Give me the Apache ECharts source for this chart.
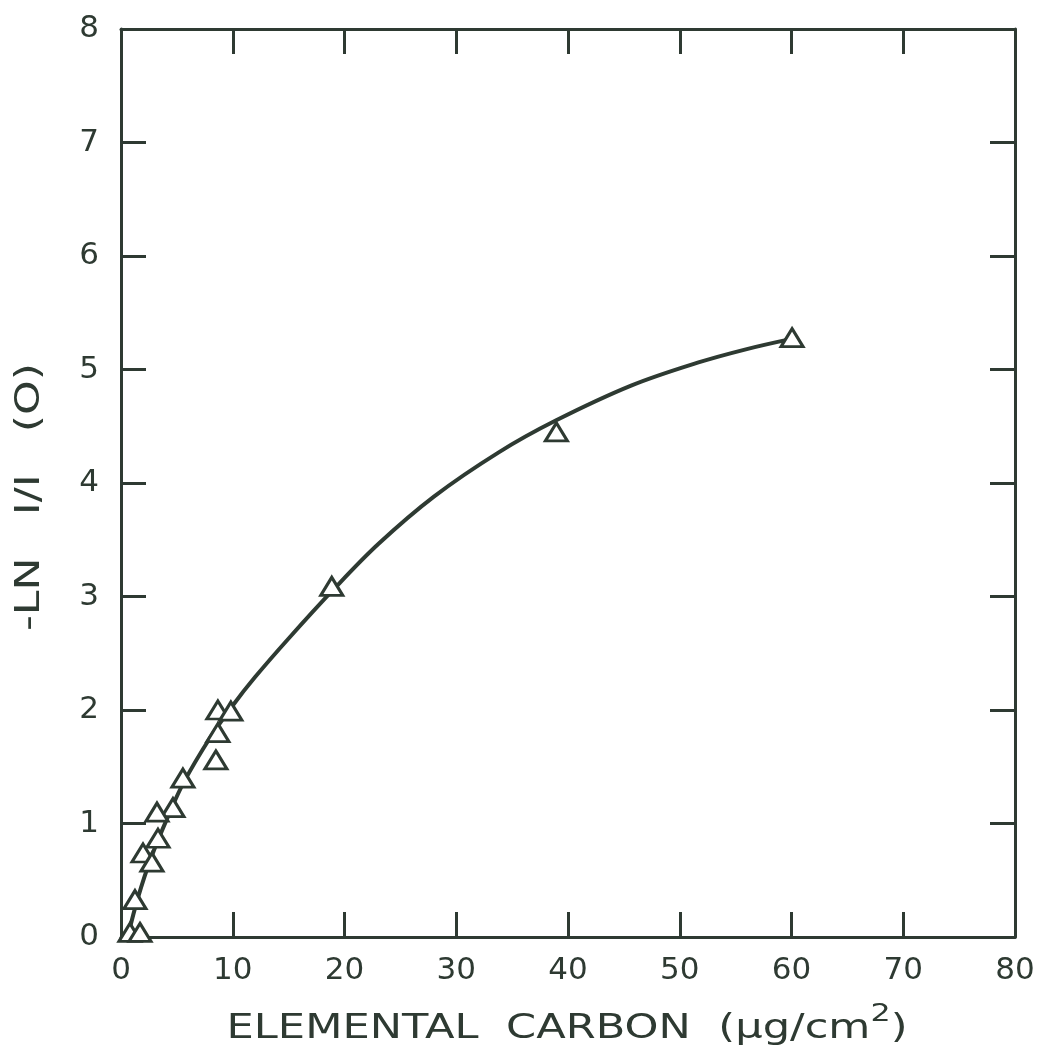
<!DOCTYPE html>
<html>
<head>
<meta charset="utf-8">
<script src="https://cdn.jsdelivr.net/npm/echarts@6/dist/echarts.min.js"></script>
<style>
  html, body { margin: 0; padding: 0; background: #ffffff; }
  #chart { width: 1047px; height: 1054px; }
</style>
</head>
<body>
<div id="chart"></div>
<script>
// Measured samples: elemental carbon loading (µg/cm²) vs. -ln(I/I0)
const carbon = [60.05, 38.96, 18.86, 8.67, 9.83, 8.67, 8.49, 5.54, 4.65, 3.22, 3.31, 1.97, 2.77, 1.25, 0.8, 1.7];
const lnRatio = [5.28, 4.45, 3.09, 2.0, 1.99, 1.8, 1.56, 1.4, 1.14, 1.1, 0.87, 0.74, 0.66, 0.33, 0.04, 0.04];

// Hand-drawn calibration curve through the samples
const curveX = [0.6, 1.5, 2.7, 4.2, 5.6, 8, 10, 12, 15, 19, 23, 28, 33.8, 38.9, 45.7, 51.6, 56, 60];
const curveY = [0, 0.34, 0.7, 1.06, 1.36, 1.76, 2.04, 2.29, 2.63, 3.06, 3.46, 3.88, 4.27, 4.55, 4.86, 5.06, 5.18, 5.27];

const xTicks = [0, 10, 20, 30, 40, 50, 60, 70, 80];
const yTicks = [0, 1, 2, 3, 4, 5, 6, 7, 8];

const ink = '#2e3a32';
const font = 'DejaVu Sans';

const samplePoints = carbon.map((c, i) => [c, lnRatio[i]]);
const curvePoints = curveX.map((c, i) => [c, curveY[i]]);

function axisBase(extra) {
  return Object.assign({
    type: 'value',
    splitLine: { show: false },
    axisLine: { show: true, onZero: false, lineStyle: { color: ink, width: 3 } },
    axisTick: { show: true, inside: true, length: 25, lineStyle: { color: ink, width: 3 } }
  }, extra);
}

const chart = echarts.init(document.getElementById('chart'), null, { renderer: 'canvas' });
chart.setOption({
  backgroundColor: '#ffffff',
  animation: false,
  grid: { left: 121, right: 32, top: 29, bottom: 117, containLabel: false },
  xAxis: [
    axisBase({
      position: 'bottom',
      min: xTicks[0], max: xTicks[xTicks.length - 1], interval: 10,
      axisLabel: { color: ink, fontFamily: font, fontSize: 31, margin: 18 }
    }),
    axisBase({
      position: 'top',
      min: xTicks[0], max: xTicks[xTicks.length - 1], interval: 10,
      axisLabel: { show: false }
    })
  ],
  yAxis: [
    axisBase({
      position: 'left',
      min: yTicks[0], max: yTicks[yTicks.length - 1], interval: 1,
      axisLabel: { color: ink, fontFamily: font, fontSize: 31, margin: 22 }
    }),
    axisBase({
      position: 'right',
      min: yTicks[0], max: yTicks[yTicks.length - 1], interval: 1,
      axisLabel: { show: false }
    })
  ],
  graphic: [
    {
      // x-axis title, stretched to the lettering's wide spacing
      type: 'text',
      x: 567, y: 1024,
      scaleX: 1.27,
      style: {
        text: '{t|ELEMENTAL  CARBON  (μg/cm}{s|2}{t|)}',
        align: 'center',
        verticalAlign: 'middle',
        rich: {
          t: { fill: ink, fontFamily: font, fontSize: 34, lineHeight: 44, verticalAlign: 'bottom' },
          s: { fill: ink, fontFamily: font, fontSize: 25, lineHeight: 44, verticalAlign: 'top', padding: [0, 0, 16, 0] }
        }
      }
    },
    {
      // y-axis title, read bottom to top
      type: 'text',
      x: 30, y: 497,
      rotation: Math.PI / 2,
      scaleX: 1.3,
      style: {
        text: '-LN   I/I   (O)',
        align: 'center',
        verticalAlign: 'middle',
        fill: ink,
        fontFamily: font,
        fontSize: 34
      }
    }
  ],
  series: [
    {
      type: 'line',
      data: curvePoints,
      smooth: 0.35,
      showSymbol: false,
      lineStyle: { color: ink, width: 4 },
      z: 2
    },
    {
      type: 'scatter',
      data: samplePoints,
      symbol: 'triangle',
      symbolSize: [22, 18],
      itemStyle: { color: '#ffffff', borderColor: ink, borderWidth: 3, opacity: 1 },
      z: 3
    }
  ]
});
</script>
</body>
</html>
